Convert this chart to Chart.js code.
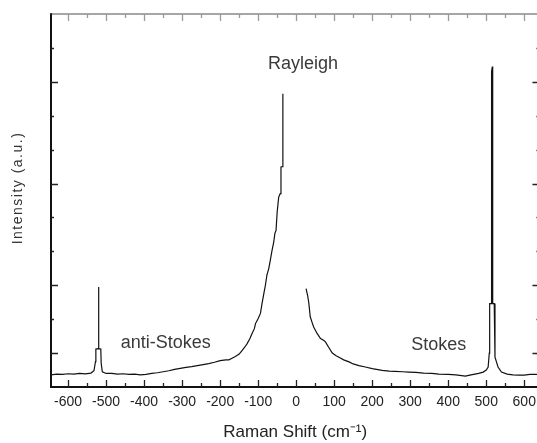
<!DOCTYPE html>
<html>
<head>
<meta charset="utf-8">
<script src="https://cdn.jsdelivr.net/npm/chart.js@4"></script>
<style>
    html, body { margin: 0; padding: 0; overflow: hidden; background: #fff; }
    #wrap { width: 543px; height: 443px; }
</style>
</head>
<body>
<div id="wrap"><canvas id="ramanCanvas"></canvas></div>
<script>
    // Raman shift (cm-1). null = notch filter gap
    var shift = [
        -645, -630, -615, -600, -585, -570, -555, -540, -532, -528, -527, -521, -520, -519, -514, -513, -510,
        -500, -485, -470, -455, -440, -425, -410, -395, -380, -365, -350, -335, -320, -305, -290, -275,
        -260, -245, -230, -215, -200, -185, -177, -170, -160, -150, -142, -135, -129, -122, -116, -110,
        -107, -100, -94, -90, -85, -81, -77, -72, -68, -64, -59, -56, -53, -50, -46, -42, -40, -36, -35,
        0,
        26, 30, 33, 37, 42, 46, 55, 64, 72, 77, 85, 95, 105, 115, 125, 139, 150, 165, 182, 200, 215, 226,
        245, 260, 280, 296, 315, 335, 357, 375, 400, 420, 445, 460, 480, 492, 500, 505, 508, 509, 513,
        514, 516, 517, 521, 523, 531, 540, 555, 570, 585, 600, 615, 628, 640
    ];
    var intensity = [
        0.36, 0.38, 0.37, 0.39, 0.38, 0.40, 0.39, 0.41, 0.48, 0.75, 1.12, 1.13, 2.95, 1.13, 1.12, 0.70, 0.45,
        0.40, 0.40, 0.38, 0.39, 0.37, 0.38, 0.36, 0.37, 0.40, 0.42, 0.45, 0.48, 0.52, 0.55, 0.58, 0.60,
        0.63, 0.66, 0.69, 0.73, 0.78, 0.80, 0.80, 0.84, 0.90, 0.97, 1.08, 1.18, 1.28, 1.42, 1.58, 1.72,
        1.87, 2.02, 2.17, 2.45, 2.76, 3.00, 3.30, 3.50, 3.74, 4.00, 4.28, 4.53, 4.62, 5.16, 5.60, 5.70, 6.49, 6.50, 8.65,
        null,
        2.90, 2.70, 2.50, 2.07, 1.90, 1.77, 1.58, 1.43, 1.38, 1.33, 1.18, 1.00, 0.92, 0.86, 0.80, 0.74, 0.68, 0.63, 0.59, 0.54, 0.51, 0.49,
        0.47, 0.46, 0.45, 0.44, 0.43, 0.41, 0.40, 0.38, 0.37, 0.36, 0.32, 0.36, 0.40, 0.44, 0.50, 0.59, 1.00, 2.46, 2.46,
        9.30, 9.45, 2.46, 2.46, 0.88, 0.59, 0.44, 0.38, 0.36, 0.35, 0.35, 0.37, 0.37, 0.37
    ];

    // axis ticks
    var xMajorTicks = [-600, -500, -400, -300, -200, -100, 0, 100, 200, 300, 400, 500, 600];
    var xMinorTicks = [-550, -450, -350, -250, -150, -50, 50, 150, 250, 350, 450, 550];
    var yMajorTicks = [1, 3, 6, 9];
    var yMinorTicks = [2, 4, 5, 7, 8, 10];

    // peak labels (x centre, y baseline in data units)
    var noteText = ['Rayleigh', 'anti-Stokes', 'Stokes'];
    var noteX = [18, -343, 375];
    var noteY = [9.39, 1.16, 1.08];

    var points = shift.map(function (x, i) {
        return { x: x, y: intensity[i] };
    });

    // frame, inward ticks, labels, y title
    var framePlugin = {
        id: 'frame',
        afterDraw: function (chart) {
            var ctx = chart.ctx;
            var a = chart.chartArea;
            var xs = chart.scales.x;
            var ys = chart.scales.y;
            ctx.save();

            // frame
            ctx.lineCap = 'butt';
            ctx.strokeStyle = '#888';
            ctx.lineWidth = 1.5;
            ctx.beginPath();
            ctx.moveTo(a.left, a.top);
            ctx.lineTo(a.right, a.top);
            ctx.stroke();
            ctx.strokeStyle = '#111';
            ctx.lineWidth = 2;
            ctx.beginPath();
            ctx.moveTo(a.left, a.top - 0.75);
            ctx.lineTo(a.left, a.bottom);
            ctx.lineTo(a.right, a.bottom);
            ctx.lineTo(a.right, a.top);
            ctx.stroke();

            // ticks
            function xTick(v, len) {
                var px = Math.round(xs.getPixelForValue(v)) + 0.5;
                ctx.strokeStyle = '#222';
                ctx.beginPath();
                ctx.moveTo(px, a.bottom);
                ctx.lineTo(px, a.bottom - len);
                ctx.stroke();
                ctx.strokeStyle = '#999';
                ctx.beginPath();
                ctx.moveTo(px, a.top);
                ctx.lineTo(px, a.top + len);
                ctx.stroke();
            }
            function yTick(v, len) {
                var py = Math.round(ys.getPixelForValue(v)) + 0.5;
                ctx.strokeStyle = '#222';
                ctx.beginPath();
                ctx.moveTo(a.left, py);
                ctx.lineTo(a.left + len, py);
                ctx.moveTo(a.right, py);
                ctx.lineTo(a.right - len, py);
                ctx.stroke();
            }
            ctx.lineWidth = 1.3;
            xMajorTicks.forEach(function (v) { xTick(v, 7); });
            xMinorTicks.forEach(function (v) { xTick(v, 4); });
            yMajorTicks.forEach(function (v) { yTick(v, 7); });
            yMinorTicks.forEach(function (v) { yTick(v, 3); });

            // peak labels
            ctx.fillStyle = '#3a3a3a';
            ctx.font = '18px "Liberation Sans", Arial, sans-serif';
            ctx.textAlign = 'center';
            ctx.textBaseline = 'alphabetic';
            noteText.forEach(function (t, i) {
                ctx.fillText(t, xs.getPixelForValue(noteX[i]), ys.getPixelForValue(noteY[i]));
            });

            // y axis title
            ctx.translate(18.5, 188);
            ctx.rotate(-Math.PI / 2);
            ctx.font = '14px "Liberation Sans", Arial, sans-serif';
            ctx.letterSpacing = '1.5px';
            ctx.textBaseline = 'middle';
            ctx.fillStyle = '#333';
            ctx.fillText('Intensity (a.u.)', 0, 0);
            ctx.restore();
        }
    };

    window.onload = function () {
        var ctx = document.getElementById('ramanCanvas').getContext('2d');
        window.ramanChart = new Chart(ctx, {
            type: 'scatter',
            data: {
                datasets: [{
                    data: points,
                    showLine: true,
                    spanGaps: false,
                    borderColor: '#111',
                    borderWidth: 1.2,
                    pointRadius: 0,
                    tension: 0
                }]
            },
            options: {
                responsive: true,
                maintainAspectRatio: false,
                animation: false,
                layout: { padding: { top: 14, right: 2, left: 0, bottom: 0 } },
                plugins: {
                    legend: { display: false },
                    tooltip: { enabled: false }
                },
                scales: {
                    x: {
                        type: 'linear',
                        min: -645,
                        max: 640,
                        grid: { display: false, drawTicks: false },
                        border: { display: false },
                        ticks: {
                            stepSize: 100,
                            includeBounds: false,
                            autoSkip: false,
                            maxRotation: 0,
                            padding: 7,
                            color: '#222',
                            font: { family: '"Liberation Sans", Arial, sans-serif', size: 14 }
                        },
                        title: {
                            display: true,
                            text: 'Raman Shift (cm\u207B\u00B9)',
                            color: '#222',
                            padding: 0,
                            font: { family: '"Liberation Sans", Arial, sans-serif', size: 17 }
                        },
                        afterFit: function (scale) { scale.height = 56; }
                    },
                    y: {
                        min: 0,
                        max: 11,
                        grid: { display: false, drawTicks: false },
                        border: { display: false },
                        ticks: { display: false },
                        afterFit: function (scale) { scale.width = 51; }
                    }
                }
            },
            plugins: [framePlugin]
        });
    };
</script>
</body>
</html>
